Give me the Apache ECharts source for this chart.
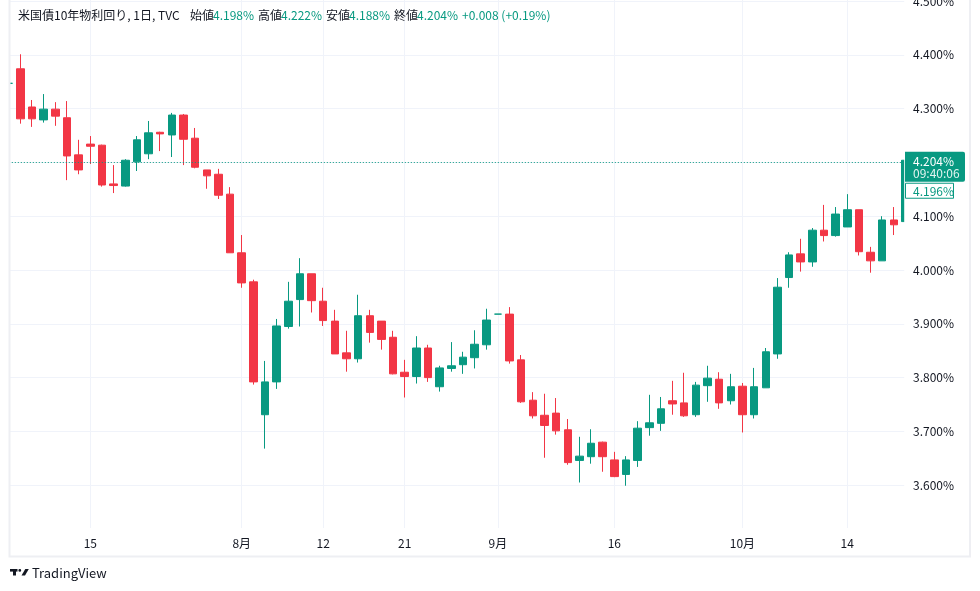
<!DOCTYPE html>
<html>
<head>
<meta charset="utf-8">
<script src="https://cdn.jsdelivr.net/npm/echarts@6/dist/echarts.min.js"></script>
<style>html,body{margin:0;padding:0;background:#fff}#c{width:980px;height:591px}</style>
</head>
<body>
<div id="c"></div>
<script>
// ---- data (US 10Y yield, daily, TVC) ----
const dates = [
 '2024-07-04','2024-07-05','2024-07-08','2024-07-09','2024-07-10','2024-07-11','2024-07-12','2024-07-15','2024-07-16','2024-07-17',
 '2024-07-18','2024-07-19','2024-07-22','2024-07-23','2024-07-24','2024-07-25','2024-07-26','2024-07-29','2024-07-30','2024-07-31',
 '2024-08-01','2024-08-02','2024-08-05','2024-08-06','2024-08-07','2024-08-08','2024-08-09','2024-08-12','2024-08-13','2024-08-14',
 '2024-08-15','2024-08-16','2024-08-19','2024-08-20','2024-08-21','2024-08-22','2024-08-23','2024-08-26','2024-08-27','2024-08-28',
 '2024-08-29','2024-08-30','2024-09-02','2024-09-03','2024-09-04','2024-09-05','2024-09-06','2024-09-09','2024-09-10','2024-09-11',
 '2024-09-12','2024-09-13','2024-09-16','2024-09-17','2024-09-18','2024-09-19','2024-09-20','2024-09-23','2024-09-24','2024-09-25',
 '2024-09-26','2024-09-27','2024-09-30','2024-10-01','2024-10-02','2024-10-03','2024-10-04','2024-10-07','2024-10-08','2024-10-09',
 '2024-10-10','2024-10-11','2024-10-14','2024-10-15','2024-10-16','2024-10-17','2024-10-18','2024-10-21'
];
const opens = [
 4.347,4.374,4.303,4.279,4.299,4.283,4.214,4.234,4.232,4.160,
 4.156,4.201,4.216,4.256,4.251,4.288,4.245,4.186,4.178,4.141,
 4.032,3.978,3.731,3.792,3.895,3.945,3.993,3.942,3.905,3.846,
 3.835,3.915,3.905,3.875,3.810,3.802,3.855,3.783,3.817,3.824,
 3.837,3.861,3.918,3.918,3.833,3.758,3.730,3.734,3.703,3.646,
 3.653,3.680,3.647,3.620,3.646,3.707,3.715,3.757,3.753,3.731,
 3.785,3.797,3.757,3.784,3.731,3.781,3.844,3.986,4.030,4.015,
 4.074,4.064,4.080,4.112,4.033,4.017,4.093,4.090
];
const closes = [
 4.347,4.281,4.281,4.299,4.286,4.212,4.186,4.230,4.158,4.157,
 4.204,4.242,4.255,4.253,4.288,4.243,4.191,4.175,4.139,4.032,
 3.976,3.792,3.792,3.896,3.942,3.993,3.943,3.906,3.844,3.835,
 3.915,3.884,3.871,3.807,3.802,3.855,3.800,3.818,3.822,3.838,
 3.862,3.907,3.918,3.831,3.755,3.729,3.711,3.701,3.642,3.654,
 3.678,3.653,3.616,3.647,3.706,3.716,3.742,3.751,3.729,3.786,
 3.799,3.753,3.783,3.731,3.783,3.848,3.968,4.028,4.015,4.074,
 4.064,4.104,4.112,4.034,4.017,4.093,4.084,4.204
];
const lows = [
 4.347,4.272,4.266,4.274,4.268,4.167,4.178,4.197,4.155,4.143,
 4.155,4.184,4.206,4.221,4.210,4.195,4.189,4.151,4.132,4.032,
 3.967,3.787,3.668,3.779,3.891,3.895,3.921,3.896,3.844,3.811,
 3.828,3.865,3.852,3.806,3.763,3.789,3.792,3.774,3.811,3.807,
 3.817,3.852,3.918,3.826,3.753,3.724,3.651,3.694,3.638,3.605,
 3.640,3.625,3.615,3.599,3.634,3.692,3.701,3.731,3.727,3.727,
 3.755,3.742,3.750,3.698,3.724,3.781,3.835,3.967,3.997,4.006,
 4.053,4.062,4.080,4.027,3.995,4.017,4.065,4.090
];
const highs = [
 4.347,4.401,4.316,4.327,4.312,4.314,4.242,4.249,4.233,4.195,
 4.206,4.249,4.277,4.257,4.292,4.290,4.264,4.186,4.188,4.154,
 4.065,3.982,3.831,3.909,3.978,4.022,3.993,3.967,3.926,3.887,
 3.954,3.926,3.905,3.887,3.833,3.877,3.861,3.822,3.866,3.848,
 3.888,3.928,3.918,3.931,3.842,3.773,3.770,3.762,3.723,3.690,
 3.704,3.681,3.662,3.654,3.719,3.768,3.764,3.794,3.809,3.792,
 3.822,3.810,3.807,3.790,3.818,3.855,3.985,4.033,4.058,4.078,
 4.121,4.117,4.141,4.112,4.043,4.100,4.117,4.204
];
const tickDates = ['2024-07-15','2024-08-01','2024-08-12','2024-08-21','2024-09-02','2024-09-16','2024-10-01','2024-10-14'];
const tickTexts = ['15','8月','12','21','9月','16','10月','14'];
const title = '米国債10年物利回り, 1日, TVC';
const legendNames = ['始値','高値','安値','終値'];
const legendValues = ['4.198%','4.222%','4.188%','4.204%'];
const changeText = '+0.008 (+0.19%)';
const lastPrice = 4.204;
const lastTime = '09:40:06';
const prevPriceText = '4.196%';

// ---- chart ----
const UP = '#089981', DOWN = '#F23645', TXT = '#131722', GRID = '#F0F3FA';
const FONT = "'Noto Sans CJK JP', 'Noto Sans', sans-serif";
const candles = dates.map((d, i) => [opens[i], closes[i], lows[i], highs[i]]);

const chart = echarts.init(document.getElementById('c'), null, {renderer: 'canvas'});
chart.setOption({
  animation: false,
  backgroundColor: '#ffffff',
  grid: {left: 8.8, right: 74.5, top: 0, height: 528, containLabel: false, outerBoundsMode: 'none'},
  xAxis: {
    type: 'category', data: dates, boundaryGap: false,
    axisLine: {show: false}, axisTick: {show: false},
    axisLabel: {
      interval: (i, v) => tickDates.includes(v),
      formatter: v => { const k = tickDates.indexOf(v); return k >= 0 ? tickTexts[k] : ''; },
      color: TXT, fontSize: 12, margin: 9, fontFamily: FONT
    },
    splitLine: {show: true, interval: (i, v) => tickDates.includes(v), lineStyle: {color: GRID, width: 1}}
  },
  yAxis: {
    type: 'value', position: 'right', scale: true,
    min: 3.52045, max: 4.50186, splitNumber: 10,
    axisLine: {show: false}, axisTick: {show: false},
    axisLabel: {
      color: TXT, fontSize: 12, margin: 7.5, fontFamily: FONT, showMinLabel: false, showMaxLabel: false,
      formatter: v => { const r = Math.round(v * 10) / 10; return Math.abs(v - r) < 1e-6 ? r.toFixed(3) + '%' : ''; }
    },
    splitLine: {show: true, showMinLine: false, showMaxLine: false, lineStyle: {color: GRID, width: 1}}
  },
  series: [{
    type: 'candlestick', data: candles, barWidth: 8,
    itemStyle: {color: UP, color0: DOWN, borderColor: UP, borderColor0: DOWN, borderColorDoji: UP, borderWidth: 1},
    markLine: {
      silent: true, symbol: ['none', 'none'], label: {show: false},
      lineStyle: {color: UP, type: [1, 2], width: 1},
      data: [{yAxis: lastPrice}]
    }
  }]
});

// annotations
const yLast = chart.convertToPixel({yAxisIndex: 0}, lastPrice);
const xEnd = chart.convertToPixel({xAxisIndex: 0}, dates.length - 1);
const legendX = [190, 258, 326, 394];
const els = [];
// masks at the plot edges
els.push({type: 'rect', z: 100, shape: {x: 0, y: 0, width: 9, height: 530}, style: {fill: '#fff'}});
els.push({type: 'rect', z: 100, shape: {x: xEnd - 1.3, y: 0, width: 7, height: 530}, style: {fill: '#fff'}});
// frame
els.push({type: 'polyline', z: 101, shape: {points: [[9.5, 0], [9.5, 556.5], [970, 556.5], [970, 0]]}, style: {stroke: '#EEEFF3', lineWidth: 2, fill: null}});
// header
els.push({type: 'text', z: 120, style: {text: title, x: 18, y: 15.5, fill: TXT, fontSize: 12, fontFamily: FONT, verticalAlign: 'middle'}});
legendNames.forEach((n, i) => {
  els.push({type: 'text', z: 120, style: {text: n, x: legendX[i], y: 15.5, fill: TXT, fontSize: 12, fontFamily: FONT, verticalAlign: 'middle'}});
  els.push({type: 'text', z: 120, style: {text: legendValues[i], x: legendX[i] + 23, y: 15.5, fill: UP, fontSize: 12, fontFamily: FONT, verticalAlign: 'middle'}});
});
els.push({type: 'text', z: 120, style: {text: changeText, x: 462, y: 15.5, fill: UP, fontSize: 12, fontFamily: FONT, verticalAlign: 'middle'}});
// price labels
const bx = xEnd - 0.5;
els.push({type: 'rect', z: 110, shape: {x: bx, y: yLast - 8.5, width: 60, height: 30, r: [0, 2, 2, 0]}, style: {fill: UP}});
els.push({type: 'text', z: 111, style: {text: lastPrice.toFixed(3) + '%', x: bx + 8, y: yLast + 1, fill: '#ffffff', fontSize: 12, fontFamily: FONT, verticalAlign: 'middle'}});
els.push({type: 'text', z: 111, style: {text: lastTime, x: bx + 8, y: yLast + 13, fill: '#E3F4F0', fontSize: 12, fontFamily: FONT, verticalAlign: 'middle'}});
els.push({type: 'rect', z: 110, shape: {x: bx + 0.5, y: yLast + 23, width: 48, height: 15}, style: {fill: '#ffffff', stroke: UP, lineWidth: 1}});
els.push({type: 'text', z: 111, style: {text: prevPriceText, x: bx + 8, y: yLast + 30.8, fill: UP, fontSize: 12, fontFamily: FONT, verticalAlign: 'middle'}});
// TradingView logo
els.push({type: 'rect', z: 120, shape: {x: 10, y: 569, width: 7.5, height: 2.6}, style: {fill: TXT}});
els.push({type: 'rect', z: 120, shape: {x: 13, y: 569, width: 3, height: 6.5}, style: {fill: TXT}});
els.push({type: 'circle', z: 120, shape: {cx: 19.8, cy: 570.4, r: 1.4}, style: {fill: TXT}});
els.push({type: 'polygon', z: 120, shape: {points: [[21.5, 575.5], [25.3, 569], [28.8, 569], [25, 575.5]]}, style: {fill: TXT}});
els.push({type: 'text', z: 120, style: {text: 'TradingView', x: 32, y: 573, fill: TXT, fontSize: 13, fontFamily: FONT, verticalAlign: 'middle'}});
chart.setOption({graphic: {elements: els}});
</script>
</body>
</html>
